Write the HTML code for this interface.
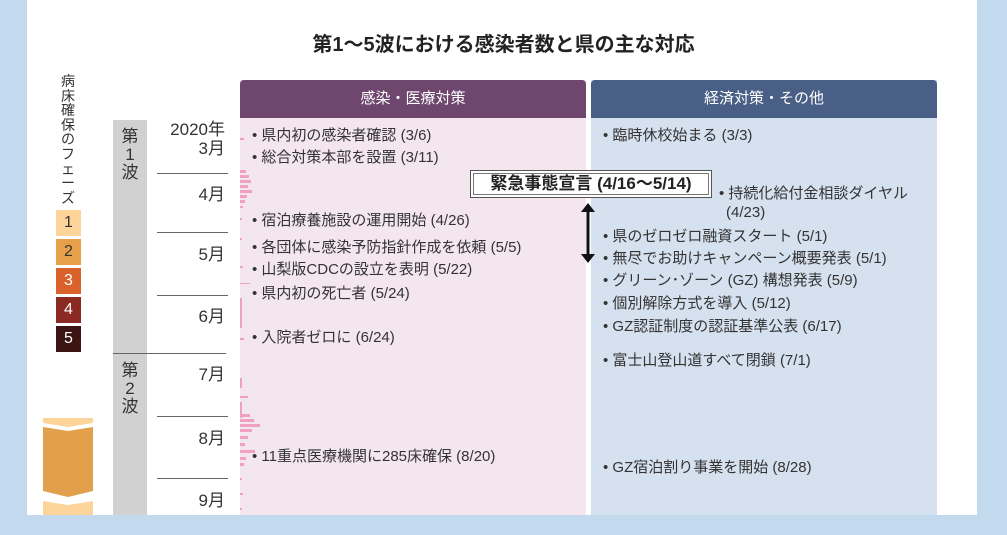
<!DOCTYPE html>
<html><head><meta charset="utf-8"><style>
*{margin:0;padding:0;box-sizing:border-box}
body{width:1007px;height:535px;background:#c2d9ee;position:relative;overflow:hidden;font-family:"Liberation Sans","Noto Sans CJK JP",sans-serif;color:#333}
.a{position:absolute;white-space:nowrap}
.t{font-size:15px;line-height:17px}
</style></head><body>
<div class="a" style="left:27px;top:0;width:950px;height:515px;background:#fff"></div>
<div class="a" style="left:0;width:1007px;top:0;text-align:center;top:28px;font-size:20px;font-weight:bold;color:#222">第1〜5波における感染者数と県の主な対応</div>
<div class="a" style="left:58px;top:74px;width:20px;font-size:14px;line-height:14.6px;white-space:normal;text-align:center;color:#333">病床確保のフェーズ</div>
<div class="a" style="left:56px;top:210px;width:25px;height:26px;background:#fdd49a;font-size:16px;text-align:center;line-height:26px">1</div>
<div class="a" style="left:56px;top:239px;width:25px;height:26px;background:#e6a04a;font-size:16px;text-align:center;line-height:26px">2</div>
<div class="a" style="left:56px;top:268px;width:25px;height:26px;background:#d9622a;color:#fff;font-size:16px;text-align:center;line-height:26px">3</div>
<div class="a" style="left:56px;top:297px;width:25px;height:26px;background:#8b2a22;color:#fff;font-size:16px;text-align:center;line-height:26px">4</div>
<div class="a" style="left:56px;top:326px;width:25px;height:26px;background:#3c1412;color:#fff;font-size:16px;text-align:center;line-height:26px">5</div>
<svg class="a" style="left:43px;top:415px" width="52" height="100">
<polygon points="0,3 50,3 50,8 25,12 0,8" fill="#fdd49a"/>
<polygon points="0,12 25,16 50,12 50,76 25,82 0,76" fill="#e2a04a"/>
<polygon points="0,86 25,90 50,86 50,100 0,100" fill="#fdd49a"/>
</svg>
<div class="a" style="left:113px;top:120px;width:34px;height:395px;background:#d1d1d1"></div>
<div class="a" style="left:121px;top:128px;width:18px;font-size:17px;line-height:18px;white-space:normal;text-align:center">第1波</div>
<div class="a" style="left:121px;top:362px;width:18px;font-size:17px;line-height:18px;white-space:normal;text-align:center">第2波</div>
<div class="a" style="left:113px;top:353px;width:113px;height:1px;background:#666"></div>
<div class="a" style="left:157px;top:173px;width:71px;height:1px;background:#666"></div>
<div class="a" style="left:157px;top:232px;width:71px;height:1px;background:#666"></div>
<div class="a" style="left:157px;top:295px;width:71px;height:1px;background:#666"></div>
<div class="a" style="left:157px;top:416px;width:71px;height:1px;background:#666"></div>
<div class="a" style="left:157px;top:478px;width:71px;height:1px;background:#666"></div>
<div class="a" style="right:782px;top:120px;font-size:17px;line-height:19px;text-align:right">2020年<br>3月</div>
<div class="a" style="right:782px;top:180px;font-size:17px">4月</div>
<div class="a" style="right:782px;top:240px;font-size:17px">5月</div>
<div class="a" style="right:782px;top:302px;font-size:17px">6月</div>
<div class="a" style="right:782px;top:360px;font-size:17px">7月</div>
<div class="a" style="right:782px;top:424px;font-size:17px">8月</div>
<div class="a" style="right:782px;top:486px;font-size:17px">9月</div>

<div class="a" style="left:240px;top:80px;width:346px;height:435px;background:#f4e6ef"></div>
<div class="a" style="left:240px;top:80px;width:346px;height:38px;background:#6e466e;border-radius:4px 4px 0 0;color:#fff;font-size:15px;text-align:center;line-height:38px">感染・医療対策</div>
<div class="a" style="left:591px;top:80px;width:346px;height:435px;background:#d6e1ef"></div>
<div class="a" style="left:591px;top:80px;width:346px;height:38px;background:#4a5f85;border-radius:4px 4px 0 0;color:#fff;font-size:15px;text-align:center;line-height:38px">経済対策・その他</div>
<svg class="a" style="left:240px;top:118px" width="30" height="397">
<g fill="#f0a0c0">
<rect x="0" y="20" width="4" height="2"/><rect x="0" y="52" width="6" height="3"/><rect x="0" y="57" width="9" height="3"/><rect x="0" y="62" width="11" height="3"/><rect x="0" y="67" width="8" height="3"/><rect x="0" y="72" width="12" height="3"/><rect x="0" y="77" width="7" height="3"/><rect x="0" y="82" width="5" height="3"/><rect x="0" y="88" width="3" height="2"/><rect x="0" y="100" width="2" height="2"/><rect x="0" y="120" width="2" height="2"/><rect x="0" y="148" width="3" height="2"/><rect x="0" y="165" width="10" height="1"/><rect x="0" y="180" width="2" height="30"/><rect x="0" y="220" width="4" height="2"/><rect x="0" y="260" width="2" height="10"/><rect x="0" y="278" width="8" height="2"/><rect x="0" y="284" width="2" height="16"/><rect x="0" y="296" width="10" height="3"/><rect x="0" y="301" width="14" height="3"/><rect x="0" y="306" width="20" height="3"/><rect x="0" y="311" width="12" height="3"/><rect x="0" y="318" width="8" height="3"/><rect x="0" y="325" width="5" height="3"/><rect x="0" y="332" width="15" height="3"/><rect x="0" y="339" width="6" height="3"/><rect x="0" y="345" width="4" height="3"/><rect x="0" y="360" width="2" height="2"/><rect x="0" y="375" width="3" height="2"/><rect x="0" y="390" width="2" height="2"/>
</g></svg>
<div class="a t" style="left:252px;top:127px">• 県内初の感染者確認 (3/6)</div>
<div class="a t" style="left:252px;top:149px">• 総合対策本部を設置 (3/11)</div>
<div class="a t" style="left:252px;top:212px">• 宿泊療養施設の運用開始 (4/26)</div>
<div class="a t" style="left:252px;top:239px">• 各団体に感染予防指針作成を依頼 (5/5)</div>
<div class="a t" style="left:252px;top:261px">• 山梨版CDCの設立を表明 (5/22)</div>
<div class="a t" style="left:252px;top:285px">• 県内初の死亡者 (5/24)</div>
<div class="a t" style="left:252px;top:329px">• 入院者ゼロに (6/24)</div>
<div class="a t" style="left:252px;top:448px">• 11重点医療機関に285床確保 (8/20)</div>
<div class="a t" style="left:603px;top:127px">• 臨時休校始まる (3/3)</div>
<div class="a t" style="left:719px;top:185px">• 持続化給付金相談ダイヤル</div>
<div class="a t" style="left:726px;top:204px">(4/23)</div>
<div class="a t" style="left:603px;top:228px">• 県のゼロゼロ融資スタート (5/1)</div>
<div class="a t" style="left:603px;top:250px">• 無尽でお助けキャンペーン概要発表 (5/1)</div>
<div class="a t" style="left:603px;top:272px">• グリーン･ゾーン (GZ) 構想発表 (5/9)</div>
<div class="a t" style="left:603px;top:295px">• 個別解除方式を導入 (5/12)</div>
<div class="a t" style="left:603px;top:318px">• GZ認証制度の認証基準公表 (6/17)</div>
<div class="a t" style="left:603px;top:352px">• 富士山登山道すべて閉鎖 (7/1)</div>
<div class="a t" style="left:603px;top:459px">• GZ宿泊割り事業を開始 (8/28)</div>
<div class="a" style="left:470px;top:170px;width:242px;height:28px;background:#fff;border:1px solid #555;box-shadow:inset 0 0 0 2px #fff,inset 0 0 0 3px #777;font-size:17px;font-weight:bold;text-align:center;line-height:26px;color:#222">緊急事態宣言 (4/16〜5/14)</div>
<svg class="a" style="left:580px;top:203px" width="16" height="60">
<line x1="8" y1="6" x2="8" y2="54" stroke="#111" stroke-width="3"/>
<polygon points="1,9 8,0 15,9" fill="#111"/><polygon points="1,51 8,60 15,51" fill="#111"/>
</svg>
</body></html>
